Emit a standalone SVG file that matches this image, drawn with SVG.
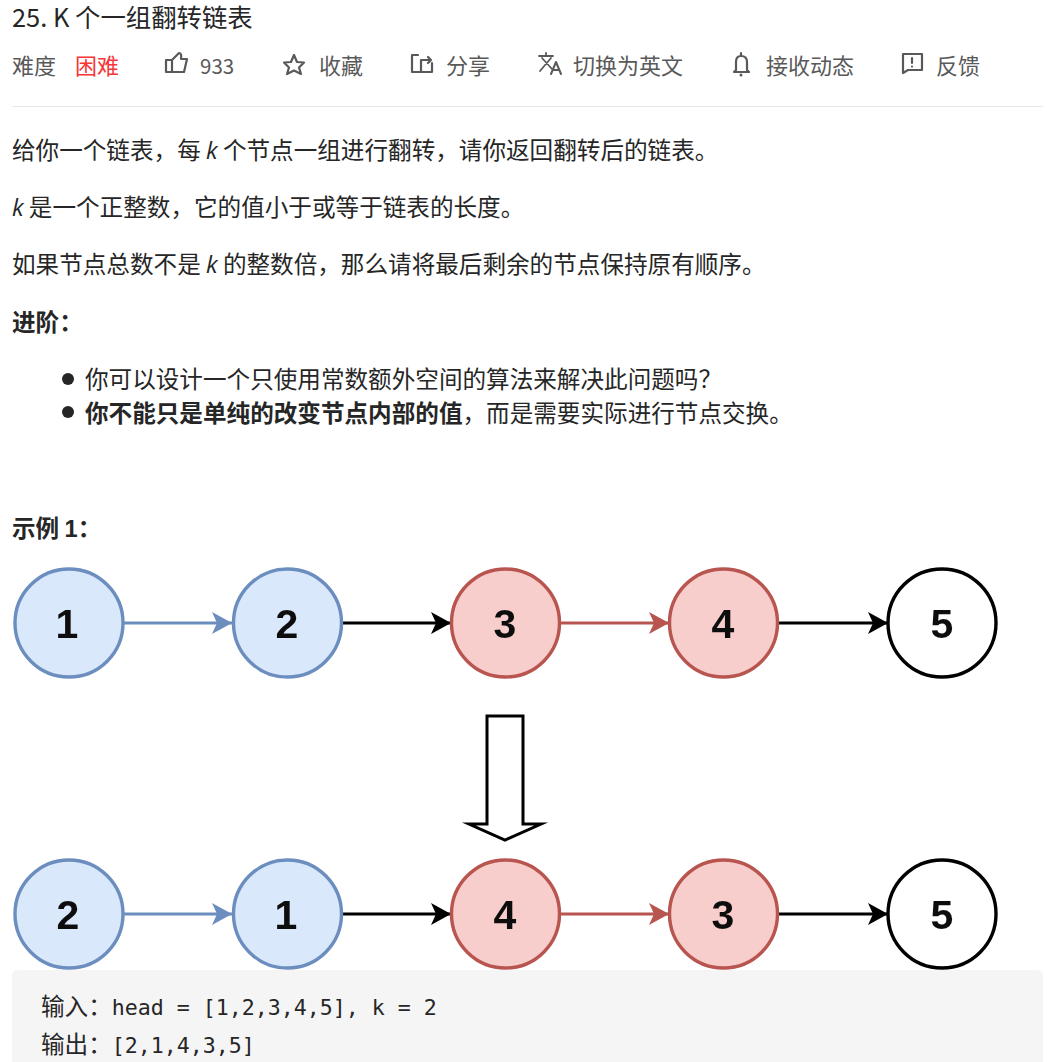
<svg xmlns="http://www.w3.org/2000/svg" width="1047" height="1062" viewBox="0 0 1047 1062">
<style>
text{font-family:"Noto Sans CJK SC","Noto Sans",sans-serif;fill:#262626}
.b{font-size:23.6px}
.h{font-size:22px;fill:#595959}
.bold{font-weight:700}
.i{font-style:italic;font-family:"Open Sans","Noto Sans CJK SC",sans-serif}
.d{font-family:"Liberation Sans",sans-serif}
.ic{fill:none;stroke:#595959;stroke-width:2.2;stroke-linejoin:round;stroke-linecap:round}
.m{font-family:"DejaVu Sans Mono","Noto Sans CJK SC",monospace;font-size:21.6px;fill:#262626}
.c{font-family:"Noto Sans CJK SC",sans-serif;font-size:23.6px}
.n{font-family:"Liberation Sans",sans-serif;font-size:41px;font-weight:700;fill:#111;text-anchor:middle}
.blue{fill:#dae8fc;stroke:#6c8ebf;stroke-width:3.4}
.red{fill:#f8cecc;stroke:#b85450;stroke-width:3.4}
.plain{fill:#fff;stroke:#000;stroke-width:3.4}
.lb{stroke:#6c8ebf;stroke-width:3;fill:none}
.lr{stroke:#b85450;stroke-width:3;fill:none}
.lk{stroke:#000;stroke-width:3;fill:none}
.soft{filter:url(#soft)}
</style>
<defs>
<filter id="soft" x="-5%" y="-5%" width="110%" height="110%"><feGaussianBlur stdDeviation="0.6"/></filter>
<marker id="ab" markerUnits="userSpaceOnUse" markerWidth="22" markerHeight="24" refX="20" refY="12" orient="auto"><path d="M0 1L20 12L0 23L5 12Z" fill="#6c8ebf"/></marker>
<marker id="ar" markerUnits="userSpaceOnUse" markerWidth="22" markerHeight="24" refX="20" refY="12" orient="auto"><path d="M0 1L20 12L0 23L5 12Z" fill="#b85450"/></marker>
<marker id="ak" markerUnits="userSpaceOnUse" markerWidth="22" markerHeight="24" refX="20" refY="12" orient="auto"><path d="M0 1L20 12L0 23L5 12Z" fill="#000"/></marker>
</defs>
<rect width="1047" height="1062" fill="#fff"/>
<g id="page-header">
<text x="12" y="27" font-size="25.400">25. K 个一组翻转链表</text>
<text class="h" x="12" y="74">难度</text>
<text class="h" x="75" y="74" style="fill:#f63636">困难</text>
<path class="ic" d="M166 72V60H172V72ZM172 60L179 53Q182 53 181 59H187L184 72H172"/>
<text class="h" x="200" y="74" style="font-size:20.500px">933</text>
<path class="ic" d="M294 55L297 62L304 62.500L299 67.500L301 74L294 70.500L287 74L289 67.500L284 62.500L291 62Z"/>
<text class="h" x="319" y="74">收藏</text>
<path class="ic" d="M418 55H412V72H432V63M421 71V60H431M428 57L431 60L428 63"/>
<text class="h" x="446" y="74">分享</text>
<path class="ic" style="stroke-width:1.800" d="M539 56H553M546 53V56M542 58L552 69M551 58L540 71"/>
<path class="ic" style="stroke-width:2" d="M551 74L556 62L561 74M553 70H559"/>
<text class="h" x="573" y="74">切换为英文</text>
<path class="ic" d="M736 70V62Q736 56 741 56Q747 56 747 62V70L749 72H734ZM741 56V53"/>
<circle cx="741" cy="75" r="1.500" fill="#595959"/>
<text class="h" x="766" y="74">接收动态</text>
<path class="ic" d="M903 54H922V70H908L903 73Z"/>
<path class="ic" d="M912 58V63M912 66.500V66.600"/>
<text class="h" x="936" y="74">反馈</text>
<rect x="12" y="106" width="1031" height="1" fill="#e8e8e8"/>
</g>
<g id="description">
<text class="b" x="12" y="158.500">给你一个链表，每 <tspan class="i">k</tspan> 个节点一组进行翻转，请你返回翻转后的链表。</text>
<text class="b" x="12" y="215.500"><tspan class="i">k</tspan> 是一个正整数，它的值小于或等于链表的长度。</text>
<text class="b" x="12" y="272.500">如果节点总数不是 <tspan class="i">k</tspan> 的整数倍，那么请将最后剩余的节点保持原有顺序。</text>
<text class="b bold" x="12" y="330.500">进阶：</text>
<circle cx="68" cy="379" r="6" fill="#262626"/>
<text class="b" x="85" y="387.500">你可以设计一个只使用常数额外空间的算法来解决此问题吗？</text>
<circle cx="68" cy="412" r="6" fill="#262626"/>
<text class="b" x="85" y="421.500"><tspan class="bold">你不能只是单纯的改变节点内部的值</tspan>，而是需要实际进行节点交换。</text>
<text class="b bold" x="12" y="536.500">示例 <tspan class="d">1</tspan>：</text>
</g>
<g id="connectors" class="soft">
<path class="lb" marker-end="url(#ab)" d="M124 623H232"/>
<path class="lk" marker-end="url(#ak)" d="M343 623H451"/>
<path class="lr" marker-end="url(#ar)" d="M561 623H669"/>
<path class="lk" marker-end="url(#ak)" d="M779 623H888"/>
<path class="lb" marker-end="url(#ab)" d="M124 914H232"/>
<path class="lk" marker-end="url(#ak)" d="M343 914H451"/>
<path class="lr" marker-end="url(#ar)" d="M561 914H669"/>
<path class="lk" marker-end="url(#ak)" d="M779 914H888"/>
<path d="M487 716H523V824H541L505 840L469 824H487Z" fill="#fff" stroke="#000" stroke-width="3" stroke-miterlimit="10"/>
</g>
<g id="n1" class="soft"><circle class="blue" cx="69" cy="623" r="54"/><text class="n" x="67" y="638">1</text></g>
<g id="n2" class="soft"><circle class="blue" cx="287.500" cy="623" r="54"/><text class="n" x="287" y="638">2</text></g>
<g id="n3" class="soft"><circle class="red" cx="505.500" cy="623" r="54"/><text class="n" x="505" y="638">3</text></g>
<g id="n4" class="soft"><circle class="red" cx="723.500" cy="623" r="54"/><text class="n" x="723" y="638">4</text></g>
<g id="n5" class="soft"><circle class="plain" cx="942" cy="623" r="54"/><text class="n" x="942" y="638">5</text></g>
<g id="n6" class="soft"><circle class="blue" cx="69" cy="914" r="54"/><text class="n" x="68" y="929">2</text></g>
<g id="n7" class="soft"><circle class="blue" cx="287.500" cy="914" r="54"/><text class="n" x="286" y="929">1</text></g>
<g id="n8" class="soft"><circle class="red" cx="505.500" cy="914" r="54"/><text class="n" x="505" y="929">4</text></g>
<g id="n9" class="soft"><circle class="red" cx="723.500" cy="914" r="54"/><text class="n" x="723" y="929">3</text></g>
<g id="n10" class="soft"><circle class="plain" cx="942" cy="914" r="54"/><text class="n" x="942" y="929">5</text></g>
<g id="example">
<path d="M12 1062V976Q12 970 18 970H1037Q1043 970 1043 976V1062Z" fill="#f5f5f5"/>
<text class="m" x="41" y="1015"><tspan class="c">输入：</tspan>head = [1,2,3,4,5], k = 2</text>
<text class="m" x="41" y="1053"><tspan class="c">输出：</tspan>[2,1,4,3,5]</text>
</g>
</svg>
